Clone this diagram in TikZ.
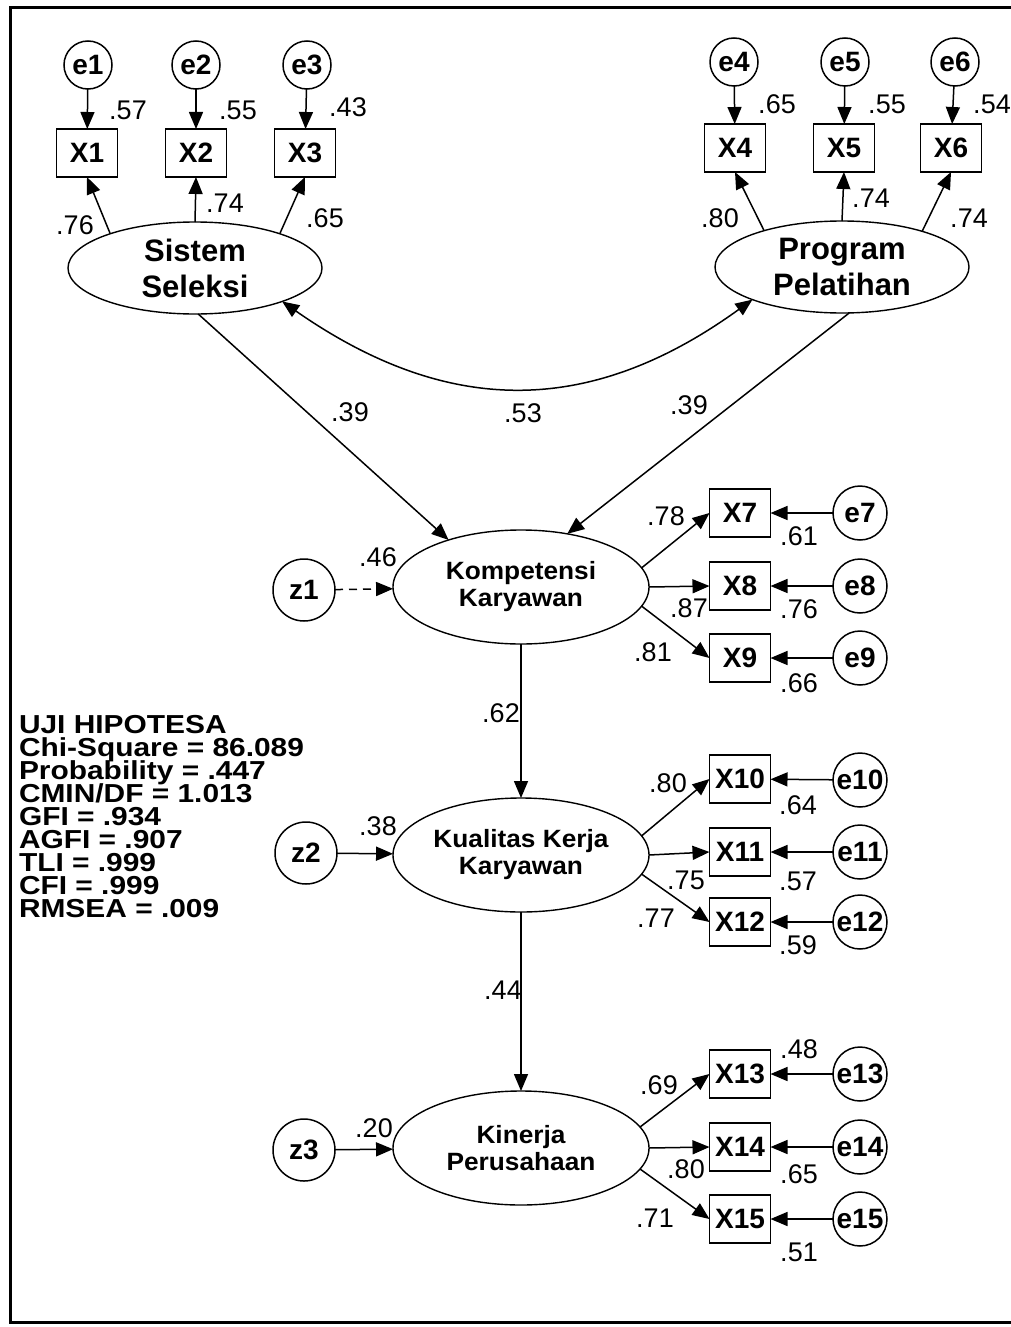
\documentclass[tikz,border=0pt]{standalone}
\usepackage{fontspec}
\setmainfont{Liberation Sans}
\newfontfamily\statfont[FakeStretch=1.15]{Liberation Sans}
\newfontfamily\midfont[FakeStretch=1.05]{Liberation Sans}
\usetikzlibrary{shapes.geometric,arrows.meta}

\begin{document}
\begin{tikzpicture}[x=0.5pt, y=-0.5pt,
  every node/.style={inner sep=0pt, outer sep=0pt},
  lat/.style={ellipse, draw, line width=0.7pt, align=center},
  biglat/.style={lat, minimum width=127pt, minimum height=46pt, font=\bfseries\fontsize{15.5}{18}\selectfont},
  midlat/.style={lat, minimum width=128pt, minimum height=57pt, font=\midfont\bfseries\fontsize{12.5}{13.5}\selectfont},
  obs/.style={rectangle, draw, line width=0.75pt, minimum width=30.5pt, minimum height=24pt, font=\bfseries\fontsize{14}{14}\selectfont},
  errt/.style={circle, draw, line width=0.75pt, minimum size=24pt, font=\bfseries\fontsize{14}{14}\selectfont},
  errr/.style={errt, minimum size=27pt},
  dist/.style={errt, minimum size=31pt},
  num/.style={font=\fontsize{13.5}{13.5}\selectfont},
  stat/.style={font=\statfont\bfseries\fontsize{13}{13}\selectfont, anchor=base west},
  arr/.style={-{Triangle[length=8.5pt,width=7pt]}, line width=0.75pt},
  dblarr/.style={{Triangle[length=8.5pt,width=7pt]}-{Triangle[length=8.5pt,width=7pt]}, line width=0.75pt},
  framed/.style={line width=1.5pt}]

\useasboundingbox (0,0) rectangle (1011,1327);
\draw[framed] (1030,8) -- (10,8) -- (10,1322) -- (1030,1322);

% ---- Sistem Seleksi block
\node[errt] (e1) at (88,65) {e1};
\node[errt] (e2) at (196,65) {e2};
\node[errt] (e3) at (307,65) {e3};
\node[obs] (X1) at (87,153) {X1};
\node[obs] (X2) at (196,153) {X2};
\node[obs] (X3) at (305,153) {X3};
\node[biglat] (SS) at (195,268) {Sistem\\Seleksi};
\node[num] (n57) at (128,110) {.57};
\node[num] (n55a) at (238,110) {.55};
\node[num] (n43) at (348,107) {.43};
\node[num] (n76) at (75,225) {.76};
\node[num] (n74a) at (225,203) {.74};
\node[num] (n65a) at (325,218) {.65};

% ---- Program Pelatihan block
\node[errt] (e4) at (734,62) {e4};
\node[errt] (e5) at (845,62) {e5};
\node[errt] (e6) at (955,62) {e6};
\node[obs] (X4) at (735,148) {X4};
\node[obs] (X5) at (844,148) {X5};
\node[obs] (X6) at (951,148) {X6};
\node[biglat] (PP) at (842,267) {Program\\Pelatihan};
\node[num] (n65b) at (777,104) {.65};
\node[num] (n55b) at (887,104) {.55};
\node[num] (n54) at (992,104) {.54};
\node[num] (n80a) at (720,218) {.80};
\node[num] (n74b) at (871,198) {.74};
\node[num] (n74c) at (969,218) {.74};

% ---- Kompetensi Karyawan block
\node[midlat] (Komp) at (521,587) {Kompetensi\\Karyawan};
\node[dist] (z1) at (304,590) {z1};
\node[obs] (X7) at (740,513) {X7};
\node[obs] (X8) at (740,586) {X8};
\node[obs] (X9) at (740,658) {X9};
\node[errr] (e7) at (860,513) {e7};
\node[errr] (e8) at (860,586) {e8};
\node[errr] (e9) at (860,658) {e9};
\node[num] (n39a) at (350,412) {.39};
\node[num] (n53) at (523,413) {.53};
\node[num] (n39b) at (689,405) {.39};
\node[num] (n46) at (378,557) {.46};
\node[num] (n78) at (666,516) {.78};
\node[num] (n87) at (689,608) {.87};
\node[num] (n81) at (653,652) {.81};
\node[num] (n61) at (799,536) {.61};
\node[num] (n76b) at (799,609) {.76};
\node[num] (n66) at (799,683) {.66};

% ---- Kualitas Kerja Karyawan block
\node[midlat] (Kual) at (521,855) {Kualitas Kerja\\Karyawan};
\node[dist] (z2) at (306,853) {z2};
\node[obs] (X10) at (740,779) {X10};
\node[obs] (X11) at (740,852) {X11};
\node[obs] (X12) at (740,922) {X12};
\node[errr] (e10) at (860,780) {e10};
\node[errr] (e11) at (860,852) {e11};
\node[errr] (e12) at (860,922) {e12};
\node[num] (n62) at (501,713) {.62};
\node[num] (n38) at (378,826) {.38};
\node[num] (n80b) at (668,783) {.80};
\node[num] (n75) at (686,880) {.75};
\node[num] (n77) at (656,918) {.77};
\node[num] (n64) at (798,805) {.64};
\node[num] (n57b) at (798,881) {.57};
\node[num] (n59) at (798,945) {.59};
\node[num] (n44) at (503,990) {.44};

% ---- Kinerja Perusahaan block
\node[midlat] (Kin) at (521,1148) {Kinerja\\Perusahaan};
\node[dist] (z3) at (304,1150) {z3};
\node[obs] (X13) at (740,1074) {X13};
\node[obs] (X14) at (740,1147) {X14};
\node[obs] (X15) at (740,1219) {X15};
\node[errr] (e13) at (860,1074) {e13};
\node[errr] (e14) at (860,1147) {e14};
\node[errr] (e15) at (860,1219) {e15};
\node[num] (n20) at (374,1128) {.20};
\node[num] (n69) at (659,1085) {.69};
\node[num] (n80c) at (686,1169) {.80};
\node[num] (n71) at (655,1218) {.71};
\node[num] (n48) at (799,1049) {.48};
\node[num] (n65c) at (799,1174) {.65};
\node[num] (n51) at (799,1252) {.51};

% ---- fit statistics
\foreach \t [count=\i] in {{UJI HIPOTESA},{Chi-Square = 86.089},{Probability = .447},{CMIN/DF = 1.013},{GFI = .934},{AGFI = .907},{TLI = .999},{CFI = .999},{RMSEA = .009}}
  \node[stat] (s\i) at (19,{710+23*\i}) {\t};

% ---- connectors
\foreach \a/\b in {e1/X1,e2/X2,e3/X3,e4/X4,e5/X5,e6/X6,e7/X7,e8/X8,e9/X9,e10/X10,e11/X11,e12/X12,e13/X13,e14/X14,e15/X15}
  \draw[arr] (\a) -- (\b);

\draw[arr] (SS.158) -- (X1.south);
\draw[arr] (SS.north) -- (X2.south);
\draw[arr] (SS.22) -- (X3.south);
\draw[arr] (PP.155) -- (X4.south);
\draw[arr] (PP.north) -- (X5.south);
\draw[arr] (PP.24) -- (X6.south);

\draw[dblarr] (SS.339) .. controls (448,417) and (590,417) .. (PP.200);

\draw[arr] (SS.274) -- (Komp.147);
\draw[arr] (PP.279) -- (Komp.49);
\draw[arr, dash pattern=on 4pt off 3pt] (z1) -- (Komp);
\draw[arr] (Komp.9) -- (X7.west);
\draw[arr] (Komp.east) -- (X8.west);
\draw[arr] (Komp.351) -- (X9.west);

\draw[arr] (Komp) -- (Kual);
\draw[arr] (z2) -- (Kual);
\draw[arr] (Kual.9) -- (X10.west);
\draw[arr] (Kual.east) -- (X11.west);
\draw[arr] (Kual.351) -- (X12.west);

\draw[arr] (Kual) -- (Kin);
\draw[arr] (z3) -- (Kin);
\draw[arr] (Kin.10) -- (X13.west);
\draw[arr] (Kin.east) -- (X14.west);
\draw[arr] (Kin.350) -- (X15.west);
\end{tikzpicture}
\end{document}
